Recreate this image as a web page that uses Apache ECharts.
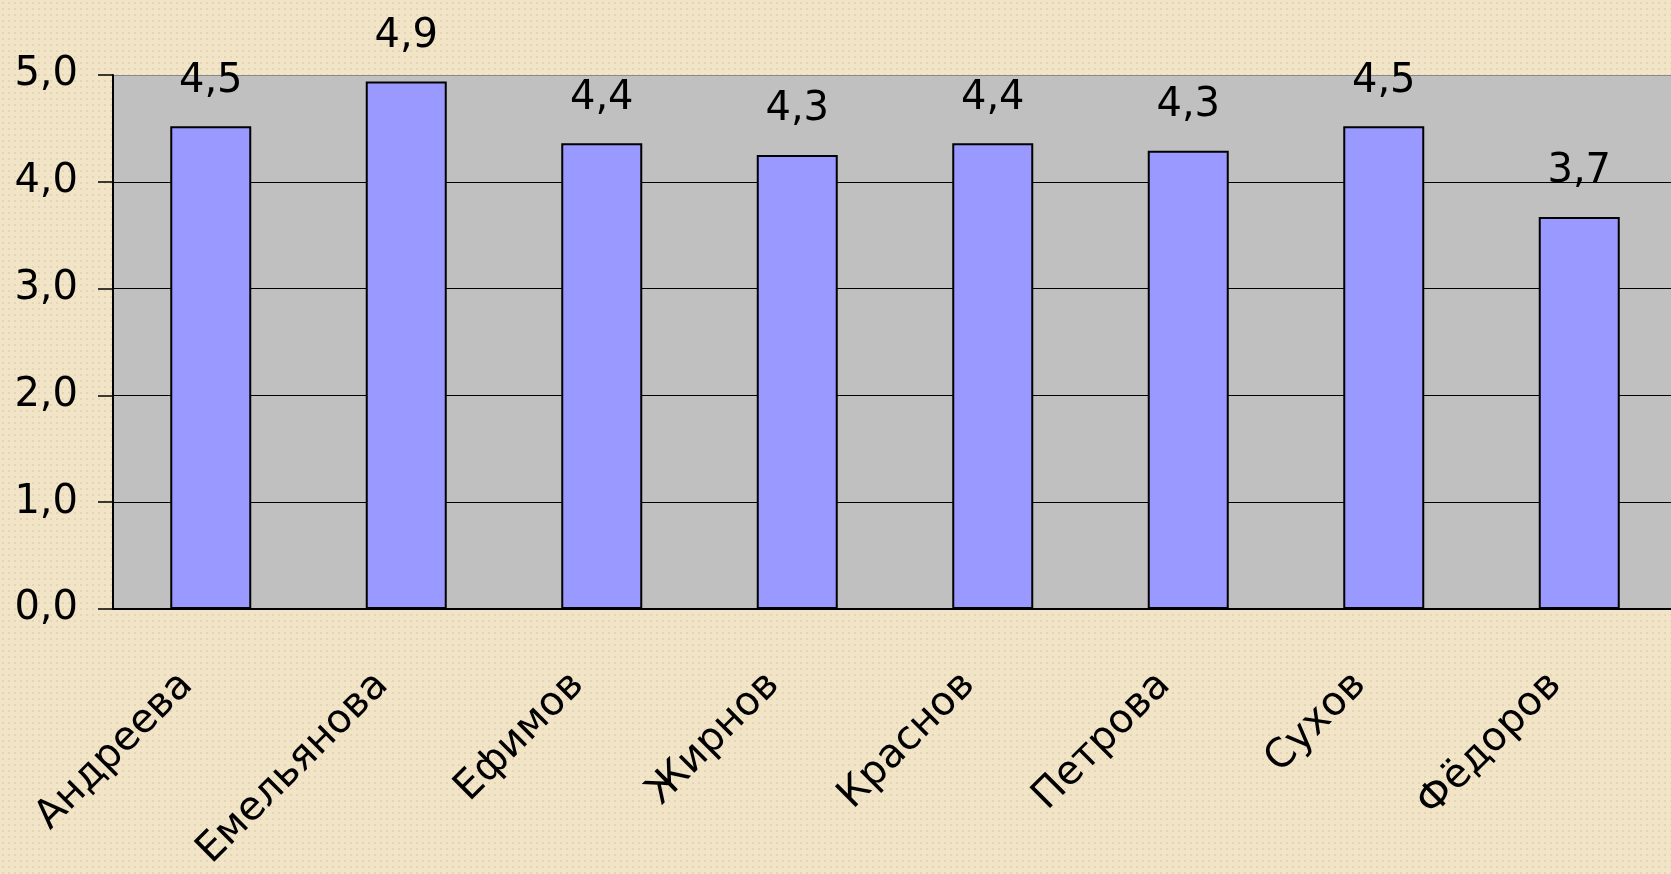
<!DOCTYPE html>
<html>
<head>
<meta charset="utf-8">
<script src="https://cdn.jsdelivr.net/npm/echarts@6/dist/echarts.min.js"></script>
<style>
  html, body {
    margin: 0;
    padding: 0;
    width: 1671px;
    height: 874px;
    overflow: hidden;
    background-color: #f1e4c7;
    background-image: radial-gradient(circle, #e3d5b6 1px, transparent 1.3px);
    background-size: 6px 6px;
  }
  #chart { width: 1671px; height: 874px; }
</style>
</head>
<body>
<div id="chart"></div>
<script>
// данные
const names = ["Андреева", "Емельянова", "Ефимов", "Жирнов", "Краснов", "Петрова", "Сухов", "Фёдоров"];
const scores = [4.52, 4.94, 4.36, 4.25, 4.36, 4.29, 4.52, 3.67];
const yTicks = [0, 1, 2, 3, 4, 5];

const fmt = (v) => v.toFixed(1).replace(".", ",");

const chart = echarts.init(document.getElementById("chart"));

const option = {
  animation: false,
  textStyle: { fontFamily: "DejaVu Sans" },
  grid: {
    left: 113,
    top: 75,
    bottom: 265,
    width: 1564,
    outerBoundsMode: "none", // не сжимать сетку из-за подписей
    show: true,
    backgroundColor: "#c0c0c0",
    borderWidth: 0,
  },
  xAxis: {
    type: "category",
    data: names,
    axisLine: { lineStyle: { color: "#000", width: 2 } },
    axisTick: { length: 13, lineStyle: { color: "#000", width: 1.5 } },
    axisLabel: {
      rotate: 45,
      interval: 0,
      margin: 46,
      padding: [0, 34, 0, 0], // сдвиг подписи влево-вниз
      fontSize: 40,
      color: "#000",
      fontFamily: "DejaVu Sans",
    },
  },
  yAxis: {
    type: "value",
    min: yTicks[0],
    max: yTicks[yTicks.length - 1],
    interval: 1,
    axisLine: { show: true, lineStyle: { color: "#000", width: 2 } },
    axisTick: { show: true, length: 15, lineStyle: { color: "#000", width: 1.5 } },
    axisLabel: {
      margin: 35,
      fontSize: 40,
      color: "#000",
      fontFamily: "DejaVu Sans",
      formatter: (v) => fmt(v),
    },
    splitLine: {
      show: true,
      lineStyle: {
        color: ["#000", "#000", "#000", "#000", "#000", "#8a8a8a"],
        width: 1.2,
      },
    },
  },
  series: [
    {
      type: "bar",
      data: scores,
      barWidth: 81,
      itemStyle: {
        color: "#9999ff",
        borderColor: "#000",
        borderWidth: 2,
      },
      label: {
        show: true,
        position: "top",
        distance: 25,
        fontSize: 40,
        color: "#000",
        fontFamily: "DejaVu Sans",
        formatter: (p) => fmt(p.value),
      },
    },
  ],
};

chart.setOption(option);
</script>
</body>
</html>
